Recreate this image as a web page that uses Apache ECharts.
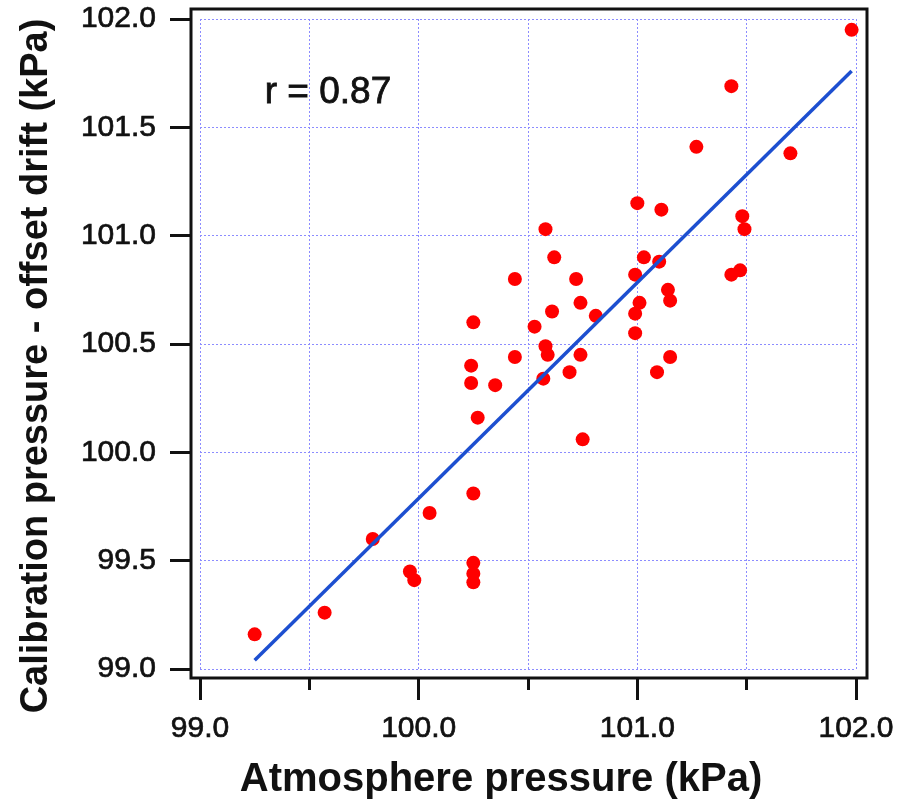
<!DOCTYPE html>
<html>
<head>
<meta charset="utf-8">
<script src="https://cdn.jsdelivr.net/npm/echarts@6/dist/echarts.min.js"></script>
<style>
  html, body { margin: 0; padding: 0; background: #fff; }
  #chart { width: 900px; height: 802px; }
</style>
</head>
<body>
<div id="chart"></div>
<script>
// Atmosphere pressure (kPa)
const atmX = [101.98, 101.43, 101.27, 101.70, 101.00, 101.11, 101.48, 101.49, 100.58, 100.62,
              100.44, 100.72, 101.03, 101.10, 100.99, 101.14, 101.15, 101.01, 100.74, 100.99,
              100.61, 100.81, 100.25, 100.53, 100.99, 100.58, 100.59, 100.74, 100.44, 101.15,
              100.24, 101.09, 100.69, 100.57, 100.24, 100.35, 100.27, 100.75, 101.47, 101.43,
              100.25, 100.05, 99.79, 99.96, 99.98, 100.25, 100.25, 100.25, 99.57, 99.25];
// Calibration pressure - offset drift (kPa)
const calY = [101.95, 101.69, 101.41, 101.38, 101.15, 101.12, 101.09, 101.03, 101.03, 100.90,
              100.80, 100.80, 100.90, 100.88, 100.82, 100.75, 100.70, 100.69, 100.69, 100.64,
              100.65, 100.63, 100.60, 100.58, 100.55, 100.49, 100.45, 100.45, 100.44, 100.44,
              100.40, 100.37, 100.37, 100.34, 100.32, 100.31, 100.16, 100.06, 100.84, 100.82,
              99.81, 99.72, 99.60, 99.45, 99.41, 99.49, 99.44, 99.40, 99.26, 99.16];
// Regression line end points
const fitX = [99.25, 101.98];
const fitY = [99.04, 101.76];
const rText = 'r = 0.87';
const xTitle = 'Atmosphere pressure (kPa)';
const yTitle = 'Calibration pressure - offset drift (kPa)';

const FONT = '"Liberation Sans", Arial, sans-serif';
const gridColor = '#8c8cff';

const labelStyle = { formatter: v => v.toFixed(1), fontSize: 30, color: '#111', fontFamily: FONT,
                     textBorderColor: '#111', textBorderWidth: 0.7 };

const chart = echarts.init(document.getElementById('chart'), null, { renderer: 'canvas' });
chart.setOption({
  backgroundColor: '#ffffff',
  animation: false,
  grid: { left: 200, right: 44, top: 19, bottom: 133, containLabel: false },
  xAxis: {
    type: 'value', min: 99, max: 102, interval: 1, offset: 9,
    axisLine: { show: false },
    axisTick: { show: true, length: 22, lineStyle: { color: '#111', width: 3 } },
    minorTick: { show: true, splitNumber: 2, length: 12, lineStyle: { color: '#111', width: 3 } },
    splitLine: { show: true, lineStyle: { color: gridColor, width: 1, type: [2, 2] } },
    minorSplitLine: { show: true, lineStyle: { color: gridColor, width: 1, type: [2, 2] } },
    axisLabel: Object.assign({ margin: 36 }, labelStyle)
  },
  yAxis: {
    type: 'value', min: 99, max: 102, interval: 0.5, offset: 9,
    axisLine: { show: false },
    axisTick: { show: true, length: 21, lineStyle: { color: '#111', width: 3 } },
    splitLine: { show: true, lineStyle: { color: gridColor, width: 1, type: [2, 2] } },
    axisLabel: Object.assign({ margin: 35 }, labelStyle)
  },
  graphic: [
    { type: 'rect', shape: { x: 191, y: 9, width: 676, height: 669 }, style: { fill: 'none', stroke: '#111', lineWidth: 3 }, z: 100 },
    { type: 'text', x: 501, y: 780, style: { text: xTitle, font: 'bold 40px ' + FONT, fill: '#111', align: 'center', verticalAlign: 'middle' } },
    { type: 'text', x: 37, y: 366, rotation: Math.PI / 2, style: { text: yTitle, font: 'bold 38px ' + FONT, fill: '#111', align: 'center', verticalAlign: 'middle' } },
    { type: 'text', x: 328, y: 93, style: { text: rText, font: '37px ' + FONT, fill: '#111', stroke: '#111', lineWidth: 0.8, align: 'center', verticalAlign: 'middle' } }
  ],
  series: [
    {
      type: 'scatter', symbol: 'circle', symbolSize: 14,
      itemStyle: { color: '#ff0000', opacity: 1 },
      data: atmX.map((x, i) => [x, calY[i]]), z: 2
    },
    {
      type: 'line', symbol: 'none', silent: true,
      lineStyle: { color: '#1d4fd0', width: 3.5 },
      data: fitX.map((x, i) => [x, fitY[i]]), z: 3
    }
  ]
});
</script>
</body>
</html>
